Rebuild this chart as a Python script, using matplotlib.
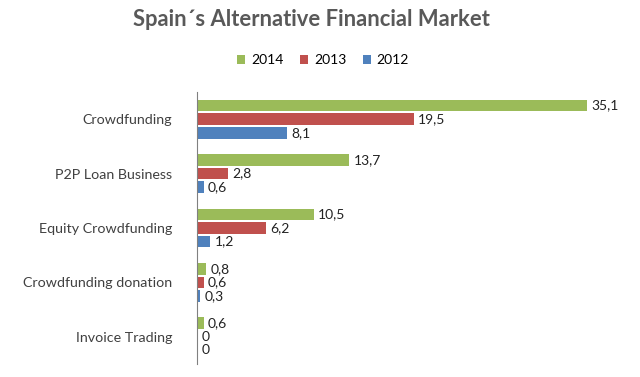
import matplotlib.pyplot as plt
import numpy as np

categories = ['Crowdfunding', 'P2P Loan Business', 'Equity Crowdfunding',
              'Crowdfunding donation', 'Invoice Trading']
years = ['2014', '2013', '2012']
values_2014 = [35.1, 13.7, 10.5, 0.8, 0.6]
values_2013 = [19.5, 2.8, 6.2, 0.6, 0.0]
values_2012 = [8.1, 0.6, 1.2, 0.3, 0.0]
colors = ['#9BBB59', '#C0504D', '#4F81BD']

plt.rcParams['font.family'] = ['Lato', 'DejaVu Sans']

fig = plt.figure(figsize=(6.4, 3.77), dpi=100)
ax = fig.add_axes([197 / 640, 1 - 364 / 377, 1 - 197 / 640, (364 - 92) / 377])

y = np.arange(len(categories))
pitch = 0.25
height = 0.21
series = [values_2014, values_2013, values_2012]
for i, (vals, year, color) in enumerate(zip(series, years, colors)):
    pos = y + (i - 1) * pitch
    ax.barh(pos, vals, height=height, color=color, label=year)
    for p, v in zip(pos, vals):
        txt = ('%.1f' % v).replace('.', ',') if v != 0 else '0'
        ax.text(v + 0.4, p, txt, va='center', ha='left', fontsize=10, color='#222222')

ax.set_ylim(len(categories) - 0.5, -0.5)
ax.set_xlim(0, 443 / 11.11)
ax.set_yticks(y)
ax.set_yticklabels(categories, fontsize=10.3, color='#404040')
ax.tick_params(axis='y', length=0, pad=18)
ax.set_xticks([])
for side in ['top', 'right', 'bottom']:
    ax.spines[side].set_visible(False)
ax.spines['left'].set_color('#808080')

fig.text(0.487, 1 - 19 / 377, 'Spain\u00b4s Alternative Financial Market', ha='center', va='center',
         fontsize=15.8, fontweight='bold', color='#595959')
fig.legend(loc='center', bbox_to_anchor=(323 / 640, 1 - 60 / 377), ncol=3, frameon=False,
           fontsize=10, handlelength=0.6, handleheight=0.6, handletextpad=0.4, columnspacing=1.2)

fig.savefig('out.png', dpi=100)
